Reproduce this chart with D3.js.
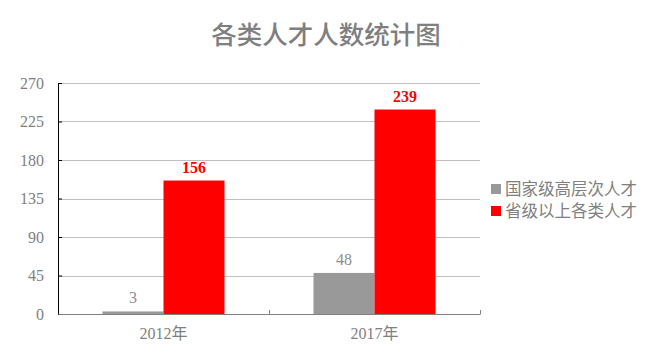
<!DOCTYPE html>
<html>
<head>
<meta charset="utf-8">
<script src="https://cdn.jsdelivr.net/npm/d3@7"></script>
<style>
  body { margin: 0; background: #fff; }
  svg text { font-family: "Liberation Serif", "Noto Sans CJK SC", serif; }
</style>
</head>
<body>
<svg id="chart" width="653" height="362"></svg>
<script>
// chart data
const years = ["2012年", "2017年"];
const seriesNames = ["国家级高层次人才", "省级以上各类人才"];
const national = [3, 48];
const provincial = [156, 239];
const yTicks = [0, 45, 90, 135, 180, 225, 270];

const colors = ["#999999", "#ff0000"];
const margin = { top: 83, right: 173, bottom: 48, left: 58 };
const width = 653 - margin.left - margin.right;
const height = 362 - margin.top - margin.bottom;

const svg = d3.select("#chart");

// title
svg.append("text")
    .attr("x", 326)
    .attr("y", 44)
    .attr("text-anchor", "middle")
    .attr("font-size", "25.5px")
    .attr("font-weight", "500")
    .attr("fill", "#7f7f7f")
    .style("font-family", "'Noto Sans CJK SC', sans-serif")
    .text("各类人才人数统计图");

const g = svg.append("g")
    .attr("transform", `translate(${margin.left},${margin.top})`);

const x0 = d3.scaleBand()
    .domain(years)
    .range([0, width])
    .paddingInner(0)
    .paddingOuter(0);

const x1 = d3.scaleBand()
    .domain(seriesNames)
    .range([44.5, x0.bandwidth() - 44.5]);

const y = d3.scaleLinear()
    .domain([0, 270])
    .range([height, 0]);

// grid lines
g.append("g")
    .selectAll("line")
    .data(yTicks.filter(d => d > 0))
    .join("line")
    .attr("x1", 0)
    .attr("x2", width)
    .attr("y1", d => Math.round(y(d)) + 0.5)
    .attr("y2", d => Math.round(y(d)) + 0.5)
    .attr("stroke", "#c0c0c0");

// bars
const rows = years.map((yr, i) => ({ year: yr, values: [national[i], provincial[i]] }));

const groups = g.selectAll(".grp")
    .data(rows)
    .join("g")
    .attr("class", "grp")
    .attr("transform", d => `translate(${x0(d.year)},0)`);

groups.selectAll("rect")
    .data(d => d.values.map((v, k) => ({ key: seriesNames[k], k, v })))
    .join("rect")
    .attr("x", d => x1(d.key))
    .attr("y", d => y(d.v))
    .attr("width", x1.bandwidth())
    .attr("height", d => height - y(d.v))
    .attr("fill", d => colors[d.k]);

groups.selectAll(".lbl")
    .data(d => d.values.map((v, k) => ({ key: seriesNames[k], k, v })))
    .join("text")
    .attr("class", "lbl")
    .attr("x", d => x1(d.key) + x1.bandwidth() / 2)
    .attr("y", d => y(d.v) - 8)
    .attr("text-anchor", "middle")
    .attr("font-size", "16px")
    .attr("font-weight", d => d.k === 1 ? "bold" : "normal")
    .attr("fill", d => d.k === 1 ? "#ff0000" : "#8c8c8c")
    .text(d => d.v);

// y axis
const yAxis = g.append("g")
    .call(d3.axisLeft(y).tickValues(yTicks).tickSizeInner(-4).tickSizeOuter(0).tickPadding(14));
yAxis.select(".domain").attr("stroke", "#000");
yAxis.selectAll(".tick line").attr("stroke", "#000");
yAxis.selectAll(".tick text")
    .attr("fill", "#7f7f7f")
    .attr("font-size", "16px")
    .style("font-family", "'Liberation Serif', serif");

// x axis
const xAxis = g.append("g")
    .attr("transform", `translate(0,${height})`)
    .call(d3.axisBottom(x0).tickSize(0).tickPadding(14));
xAxis.select(".domain").attr("stroke", "#808080");
xAxis.selectAll(".tick text")
    .attr("fill", "#7f7f7f")
    .attr("font-size", "16px")
    .style("font-family", "'Liberation Serif', 'Noto Sans CJK SC', serif");

// category boundary ticks on the x axis
xAxis.append("g")
    .selectAll("line")
    .data(years)
    .join("line")
    .attr("x1", d => x0(d) + x0.bandwidth() + 0.5)
    .attr("x2", d => x0(d) + x0.bandwidth() + 0.5)
    .attr("y1", 0)
    .attr("y2", -4)
    .attr("stroke", "#808080");

// legend
const legend = svg.append("g")
    .attr("transform", "translate(491,189)");
seriesNames.forEach((name, i) => {
    const row = legend.append("g").attr("transform", `translate(0,${i * 22})`);
    row.append("rect")
        .attr("x", 0).attr("y", -5)
        .attr("width", 10).attr("height", 10)
        .attr("fill", colors[i]);
    row.append("text")
        .attr("x", 14)
        .attr("y", 0)
        .attr("dy", "0.35em")
        .attr("font-size", "16.5px")
        .attr("fill", "#7f7f7f")
        .style("font-family", "'Noto Sans CJK SC', sans-serif")
        .text(name);
});
</script>
</body>
</html>
